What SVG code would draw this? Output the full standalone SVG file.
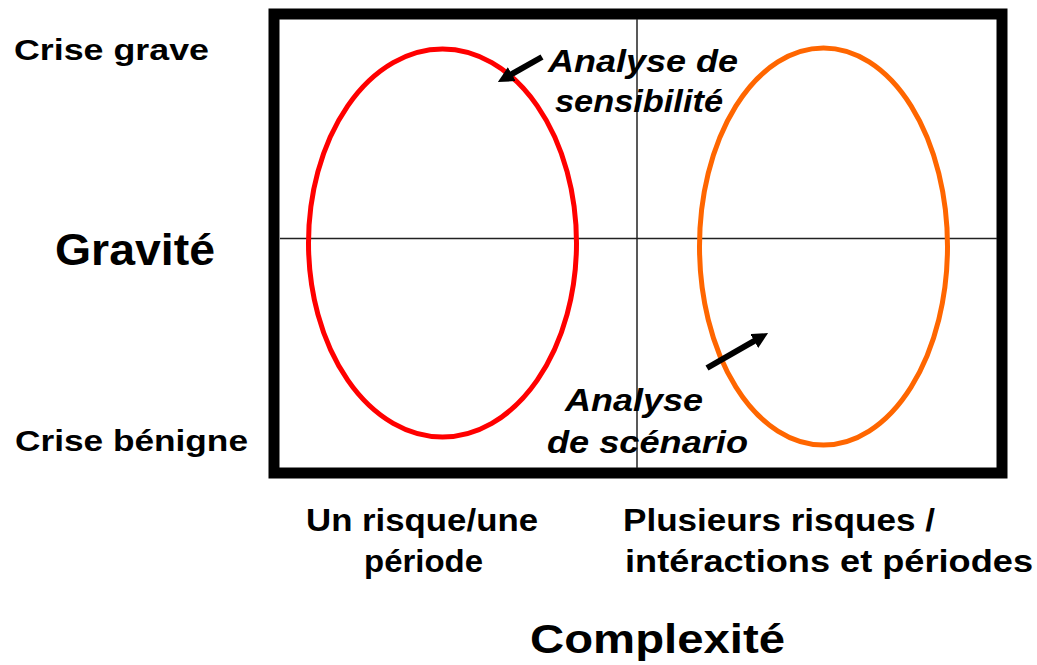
<svg xmlns="http://www.w3.org/2000/svg" width="1037" height="665" viewBox="0 0 1037 665">
<style>
text{font-family:"Liberation Sans",Arial,sans-serif;font-weight:bold;fill:#000}
.ax{font-size:29px}
.big{font-size:45px}
.lab{font-size:32px}
.it{font-size:32px;font-style:italic}
.arr{stroke:#000;stroke-width:6;fill:none;marker-end:url(#ah)}
</style>
<defs>
<marker id="ah" viewBox="0 0 10 10" refX="2" refY="5" markerWidth="16" markerHeight="16" markerUnits="userSpaceOnUse" orient="auto">
<path d="M0,0 L10,5 L0,10 z" fill="#000"/>
</marker>
</defs>
<rect width="1037" height="665" fill="#fff"/>
<g id="frame">
<rect x="274" y="14" width="728" height="459" fill="none" stroke="#000" stroke-width="11"/>
<line x1="280" y1="238.5" x2="997" y2="238.5" stroke="#222" stroke-width="1.5"/>
<line x1="637" y1="19" x2="637" y2="468" stroke="#222" stroke-width="1.5"/>
</g>
<g id="ellipse-left">
<ellipse cx="442.5" cy="243" rx="134" ry="194" fill="none" stroke="#ff0000" stroke-width="5"/>
</g>
<g id="ellipse-right">
<ellipse cx="823.5" cy="246.5" rx="124" ry="198.5" fill="none" stroke="#ff6600" stroke-width="5"/>
</g>
<g id="connectors">
<line class="arr" x1="542" y1="57" x2="509" y2="75.7"/>
<line class="arr" x1="707" y1="368" x2="757" y2="339.4"/>
</g>
<g id="label-sensibilite">
<text class="it" x="548" y="72" textLength="190" lengthAdjust="spacingAndGlyphs">Analyse de</text>
<text class="it" x="555" y="112" textLength="168" lengthAdjust="spacingAndGlyphs">sensibilité</text>
</g>
<g id="label-scenario">
<text class="it" x="565" y="411" textLength="138" lengthAdjust="spacingAndGlyphs">Analyse</text>
<text class="it" x="547" y="453" textLength="201" lengthAdjust="spacingAndGlyphs">de scénario</text>
</g>
<g id="axis-y">
<text class="ax" x="14" y="60" textLength="195" lengthAdjust="spacingAndGlyphs">Crise grave</text>
<text class="big" x="55" y="265" textLength="160" lengthAdjust="spacingAndGlyphs">Gravité</text>
<text class="ax" x="15" y="451" textLength="233" lengthAdjust="spacingAndGlyphs">Crise bénigne</text>
</g>
<g id="axis-x">
<text class="lab" x="306" y="531" textLength="232" lengthAdjust="spacingAndGlyphs">Un risque/une</text>
<text class="lab" x="364" y="572" textLength="119" lengthAdjust="spacingAndGlyphs">période</text>
<text class="lab" x="623" y="531" textLength="312" lengthAdjust="spacingAndGlyphs">Plusieurs risques /</text>
<text class="lab" x="625" y="572" textLength="408" lengthAdjust="spacingAndGlyphs">intéractions et périodes</text>
<text class="big" style="font-size:40px" x="530" y="653" textLength="255" lengthAdjust="spacingAndGlyphs">Complexité</text>
</g>
</svg>
